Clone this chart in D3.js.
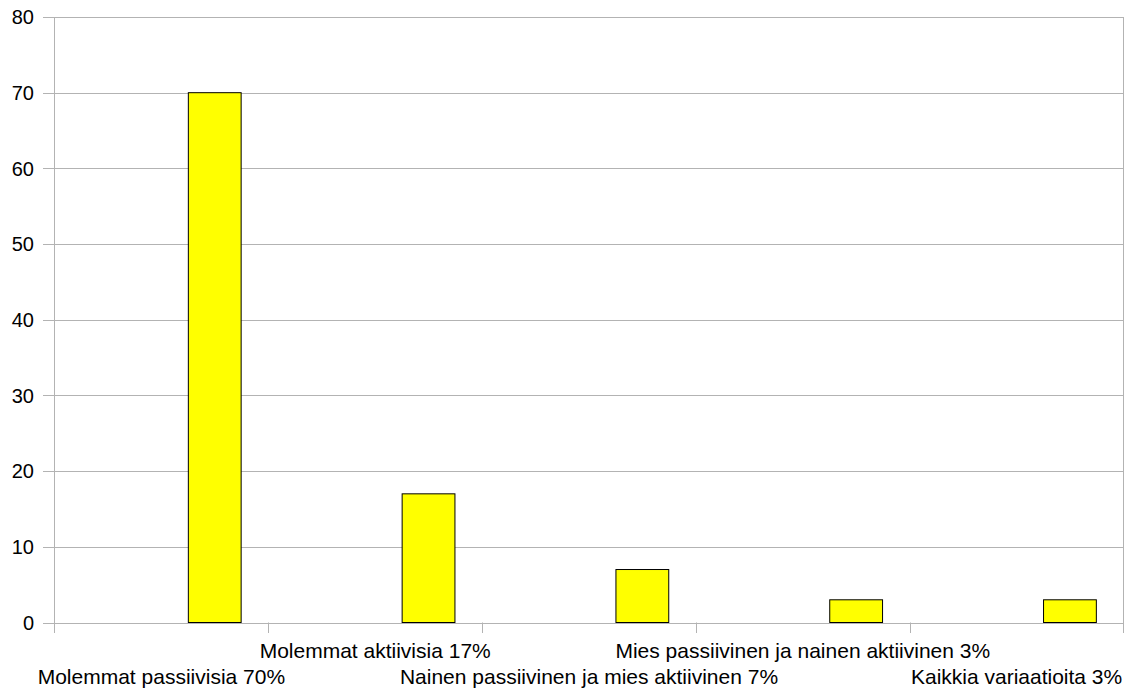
<!DOCTYPE html>
<html><head><meta charset="utf-8">
<script src="https://cdn.jsdelivr.net/npm/d3@7"></script>
<style>body{margin:0;background:#fff}svg{display:block}text{font-family:"Liberation Sans",Arial,sans-serif;fill:#000}</style>
</head><body>
<svg id="c" width="1129" height="690"></svg>
<script>
const categories = ["Molemmat passiivisia 70%","Molemmat aktiivisia 17%","Nainen passiivinen ja mies aktiivinen 7%","Mies passiivinen ja nainen aktiivinen 3%","Kaikkia variaatioita 3%"];
const values = [70,17,7,3,3];
const yTicks = [0,10,20,30,40,50,60,70,80];

const svg = d3.select("#c");
const L = 54.5, R = 1123.5, T = 17, B = 622.5;
const x = d3.scaleBand().domain(categories).range([L,R]).padding(0);
const y = d3.scaleLinear().domain([0,80]).range([B,T]);
const grid = "#b3b3b3";

// gridlines + y labels
svg.append("g").selectAll("line").data(yTicks).join("line")
  .attr("x1",43).attr("x2",R).attr("y1",d=>Math.round(y(d))+0.5).attr("y2",d=>Math.round(y(d))+0.5)
  .attr("stroke",grid).attr("stroke-width",1);
svg.append("g").selectAll("text").data(yTicks).join("text")
  .attr("x",34).attr("y",d=>y(d)).attr("dy","0.36em").attr("text-anchor","end")
  .attr("font-size",20).text(d=>d);

// axes lines
svg.append("line").attr("x1",L).attr("x2",L).attr("y1",T).attr("y2",633).attr("stroke",grid);
svg.append("line").attr("x1",R).attr("x2",R).attr("y1",T).attr("y2",633).attr("stroke",grid);
// x ticks at band boundaries
const bounds = categories.slice(1).map(c=>x(c));
svg.append("g").selectAll("line").data(bounds).join("line")
  .attr("x1",d=>Math.round(d)+0.5).attr("x2",d=>Math.round(d)+0.5).attr("y1",B).attr("y2",633)
  .attr("stroke",grid);

// bars
const bw = x.bandwidth();
svg.append("g").selectAll("rect").data(values).join("rect")
  .attr("x",(d,i)=>x(categories[i])+bw*0.626)
  .attr("width",bw*0.247)
  .attr("y",d=>y(d)).attr("height",d=>y(0)-y(d))
  .attr("fill","#ffff00").attr("stroke","#000").attr("stroke-width",1);

// x labels, staggered
svg.append("g").selectAll("text").data(categories).join("text")
  .attr("x",d=>x(d)+bw/2).attr("y",(d,i)=>i%2===0?684:658)
  .attr("text-anchor","middle").attr("font-size",21).text(d=>d);
</script>
</body></html>
